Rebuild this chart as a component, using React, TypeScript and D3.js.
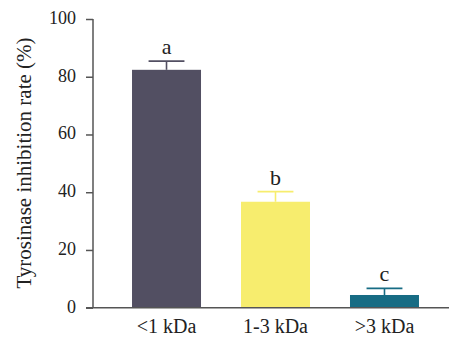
import * as d3 from 'd3'
import { useEffect, useRef } from 'react'

const categories = ['<1 kDa', '1-3 kDa', '>3 kDa']
const values = [82.4, 36.7, 4.4]
const errors = [3.0, 3.5, 2.3]
const letters = ['a', 'b', 'c']
const colors = ['#524f62', '#f7ed6e', '#176c84']
const yTicks = [0, 20, 40, 60, 80, 100]

const App = () => {
    const svgRef = useRef<SVGSVGElement>(null)

    useEffect(() => {
        const w = 450
        const h = 339
        const axisX = 93
        const font = '"Liberation Serif", "Times New Roman", serif'

        const svg = d3.select(svgRef.current).attr('width', w).attr('height', h)
        svg.selectAll('*').remove()

        const y = d3.scaleLinear().domain([0, 100]).range([307.7, 19])
        const x = d3.scaleBand().domain(categories).range([axisX, 458])
            .paddingInner(0.367).paddingOuter(0.358)

        // bars
        svg.append('g').selectAll('rect').data(values).join('rect')
            .attr('x', (d, i) => x(categories[i]))
            .attr('y', d => y(d))
            .attr('width', x.bandwidth())
            .attr('height', d => y(0) - y(d))
            .attr('fill', (d, i) => colors[i])

        // error bars
        const capW = x.bandwidth() * 0.52
        const eb = svg.append('g').selectAll('g').data(values).join('g')
            .attr('stroke', (d, i) => colors[i])
            .attr('stroke-width', 1.6)
        eb.append('line')
            .attr('x1', (d, i) => x(categories[i]) + x.bandwidth() / 2)
            .attr('x2', (d, i) => x(categories[i]) + x.bandwidth() / 2)
            .attr('y1', d => y(d))
            .attr('y2', (d, i) => y(d + errors[i]))
        eb.append('line')
            .attr('x1', (d, i) => x(categories[i]) + x.bandwidth() / 2 - capW / 2)
            .attr('x2', (d, i) => x(categories[i]) + x.bandwidth() / 2 + capW / 2)
            .attr('y1', (d, i) => y(d + errors[i]))
            .attr('y2', (d, i) => y(d + errors[i]))

        // significance letters
        svg.append('g').selectAll('text').data(values).join('text')
            .attr('x', (d, i) => x(categories[i]) + x.bandwidth() / 2)
            .attr('y', (d, i) => y(d + errors[i]) - 7)
            .attr('text-anchor', 'middle')
            .style('font-family', font).style('font-size', '22px').attr('fill', '#222')
            .text((d, i) => letters[i])

        // y axis
        const yAxis = svg.append('g').attr('transform', `translate(${axisX},0)`)
            .call(d3.axisLeft(y).tickValues(yTicks).tickSize(7).tickPadding(10))
        yAxis.select('.domain').attr('stroke', '#555').attr('stroke-width', 1.5)
            .attr('d', `M0,${y(100)}V${y(0)}`)
        yAxis.selectAll('.tick line').attr('stroke', '#555').attr('stroke-width', 1.5)
        yAxis.selectAll('.tick text').style('font-family', font).style('font-size', '18px')
            .attr('fill', '#222').attr('dy', '0.25em')

        // x axis
        svg.append('line').attr('x1', axisX - 7).attr('x2', 449)
            .attr('y1', y(0)).attr('y2', y(0))
            .attr('stroke', '#555').attr('stroke-width', 1.5)
        svg.append('g').selectAll('text').data(categories).join('text')
            .attr('x', d => x(d) + x.bandwidth() / 2)
            .attr('y', 333)
            .attr('text-anchor', 'middle')
            .style('font-family', font).style('font-size', '20px').attr('fill', '#222')
            .text(d => d)

        // y label
        svg.append('text')
            .attr('transform', `translate(31,163) rotate(-90)`)
            .attr('text-anchor', 'middle')
            .style('font-family', font).style('font-size', '21px').attr('fill', '#222')
            .text('Tyrosinase inhibition rate (%)')
    }, [])

    return (
        <div>
            <svg ref={svgRef} style={{ position: 'absolute', left: 0, top: 0 }}></svg>
        </div>
    )
}

export default App
